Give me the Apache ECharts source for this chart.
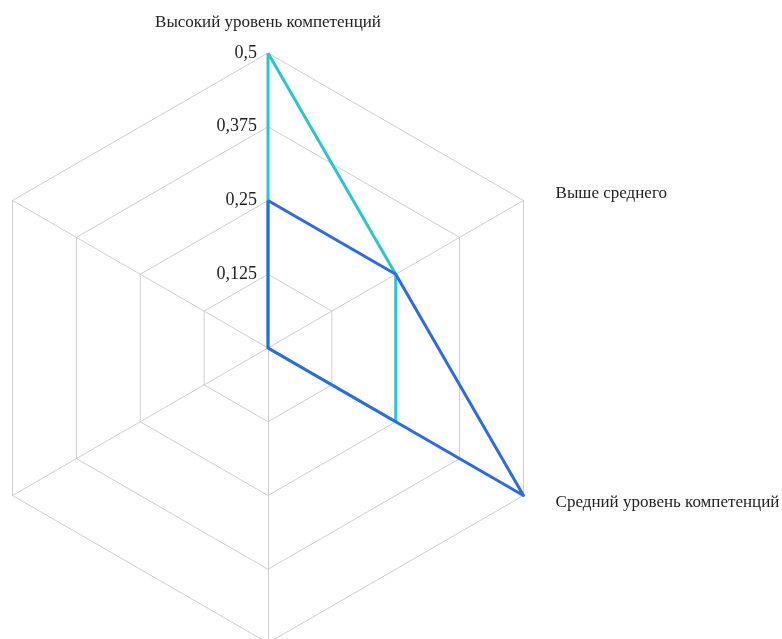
<!DOCTYPE html>
<html>
<head>
<meta charset="utf-8">
<script src="https://cdn.jsdelivr.net/npm/echarts@6/dist/echarts.min.js"></script>
<style>html,body{margin:0;padding:0;background:#fff;}#c{width:782px;height:639px;}</style>
</head>
<body>
<div id="c"></div>
<script>
// Indicators in ECharts order (top, then counter-clockwise)
var indicatorNames = ['Высокий уровень компетенций', '', '', '', 'Средний уровень компетенций', 'Выше среднего'];
var maxValue = 0.5;
var tickInterval = 0.125;
var seriesCyan = [0.5, 0, 0, 0, 0.25, 0.25];
var seriesBlue = [0.25, 0, 0, 0, 0.5, 0.25];

var chart = echarts.init(document.getElementById('c'));
var fmt = function (v) { return v === 0 ? '' : String(v).replace('.', ','); };
chart.setOption({
  animation: false,
  radar: {
    center: [268, 348],
    radius: 295,
    startAngle: 90,
    splitNumber: 4,
    shape: 'polygon',
    nameGap: 22,
    axisName: { color: '#222', fontFamily: 'Liberation Serif', fontSize: 17 },
    splitLine: { lineStyle: { color: '#cfcfcf', width: 1 } },
    splitArea: { show: false },
    axisLine: { lineStyle: { color: '#cfcfcf', width: 1 } },
    indicator: indicatorNames.map(function (n, i) {
      var o = { name: n, min: 0, max: maxValue, interval: tickInterval };
      if (i === 0) {
        o.axisLabel = { show: true, formatter: fmt, color: '#222', fontFamily: 'Liberation Serif', fontSize: 18, showMinLabel: false, margin: 11 };
      }
      if (i === 4 || i === 5) {
        o.nameGap = 14;
        o.nameTextStyle = { padding: [0, 0, 0, 20] };
      }
      return o;
    })
  },
  series: [{
    type: 'radar',
    symbol: 'none',
    data: [
      { value: seriesCyan, lineStyle: { color: '#26c8cc', width: 3 } },
      { value: seriesBlue, lineStyle: { color: '#2c6ae6', width: 3 } }
    ]
  }]
});
</script>
</body>
</html>
